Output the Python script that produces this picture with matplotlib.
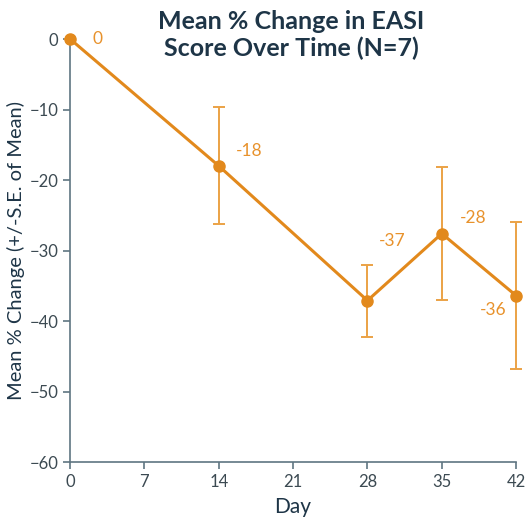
import matplotlib
matplotlib.use("Agg")
import matplotlib.pyplot as plt

# data
days = [0, 14, 28, 35, 42]
mean_change = [0, -18.0, -37.1, -27.6, -36.4]
se = [0, 8.3, 5.1, 9.4, 10.4]
point_labels = ["0", "-18", "-37", "-28", "-36"]
label_offsets = [(16, 0), (12, 11), (8, 43), (13, 11), (-7, -10)]
label_ha = ["left", "left", "left", "left", "right"]
x_ticks = [0, 7, 14, 21, 28, 35, 42]
y_ticks = [0, -10, -20, -30, -40, -50, -60]

plt.rcParams['font.family'] = ['Lato', 'DejaVu Sans']

line_col = "#e2891c"
err_col = "#eba245"
lab_col = "#e8922c"
text_col = "#1e3547"
axis_col = "#5f7581"

fig = plt.figure(figsize=(5.31, 5.20), dpi=100)
ax = fig.add_axes([0.132, 0.1115, 0.840, 0.8135])

ax.errorbar(days, mean_change, yerr=se, fmt='none', ecolor=err_col,
            elinewidth=1.4, capsize=4, capthick=1.4, zorder=2, clip_on=False)
ax.plot(days, mean_change, '-o', color=line_col, linewidth=2.2,
        markersize=8, zorder=3, clip_on=False)

for d, v, lab, off, ha in zip(days, mean_change, point_labels, label_offsets, label_ha):
    ax.annotate(lab, (d, v), xytext=off, textcoords='offset points',
                ha=ha, va='center', color=lab_col, fontsize=12.5)

ax.set_xlim(0, 42)
ax.set_ylim(-60, 0)
ax.set_xticks(x_ticks)
ax.set_yticks(y_ticks)

for s in ['top', 'right']:
    ax.spines[s].set_visible(False)
for s in ['left', 'bottom']:
    ax.spines[s].set_color(axis_col)
    ax.spines[s].set_linewidth(1.2)
ax.tick_params(colors=axis_col, labelcolor="#3c4a52", labelsize=12,
               length=5, width=1.2)

ax.set_xlabel("Day", fontsize=15, color=text_col, labelpad=5)
ax.set_ylabel("Mean % Change (+/-S.E. of Mean)", fontsize=14.5,
              color=text_col, labelpad=3)

fig.text(0.548, 0.933, "Mean % Change in EASI\nScore Over Time (N=7)",
         ha='center', va='center', fontsize=18, fontweight='bold',
         color=text_col, linespacing=1.2)

fig.savefig("out.png", dpi=100)
